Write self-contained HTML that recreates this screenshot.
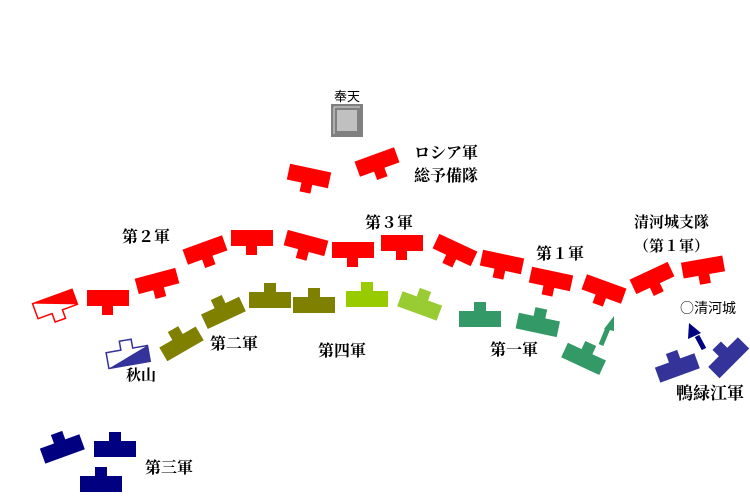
<!DOCTYPE html>
<html><head><meta charset="utf-8"><style>
body{margin:0;background:#fff}
svg{display:block}
text{font-family:"Noto Sans CJK JP","Noto Serif CJK SC",sans-serif;fill:#000}
.b{font-family:"Noto Serif CJK SC","Noto Sans CJK JP",serif;font-weight:bold;font-size:16px}
</style></head><body>
<svg width="750" height="500" viewBox="0 0 750 500" xmlns="http://www.w3.org/2000/svg">
<defs>
<path id="r" d="M-21,-8 H21 V8 H5 V17 H-6 V8 H-21 Z"/>
<path id="j" d="M-21,-7 H-6 V-16 H6 V-7 H21 V9 H-21 Z"/>
</defs>
<!-- Fengtian -->
<rect x="331" y="104" width="32" height="33" fill="#808080"/>
<rect x="337" y="110" width="20" height="21" fill="#c0c0c0"/>
<line x1="334" y1="107" x2="334" y2="134" stroke="#ddd" stroke-width="1"/>
<line x1="334" y1="107" x2="360" y2="107" stroke="#ddd" stroke-width="1"/>
<text x="347" y="101" font-size="13" text-anchor="middle">奉天</text>
<!-- Russian -->
<g fill="#ff0000">
<use href="#r" transform="translate(108,298)"/>
<use href="#r" transform="translate(157,281) rotate(-15)"/>
<use href="#r" transform="translate(205,250) rotate(-20)"/>
<use href="#r" transform="translate(252,238)"/>
<use href="#r" transform="translate(306,243) rotate(15)"/>
<use href="#r" transform="translate(353,250)"/>
<use href="#r" transform="translate(402,243)"/>
<use href="#r" transform="translate(455,250) rotate(25)"/>
<use href="#r" transform="translate(502,262) rotate(12)"/>
<use href="#r" transform="translate(551,279) rotate(12)"/>
<use href="#r" transform="translate(604,289) rotate(20)"/>
<use href="#r" transform="translate(652,278) rotate(-25)"/>
<use href="#r" transform="translate(703,267) rotate(-10)"/>
<use href="#r" transform="translate(309,176) rotate(12)"/>
<use href="#r" transform="translate(377,162) rotate(-20)"/>
</g>
<g transform="translate(55,304) rotate(-20)">
<use href="#r" fill="#fff" stroke="#ff0000" stroke-width="1.5"/>
<path d="M-21,-8 H21 V8 Z" fill="#ff0000"/>
</g>
<!-- Japanese -->
<g fill="#808000">
<use href="#j" transform="translate(181,343) rotate(-30)"/>
<use href="#j" transform="translate(223,312) rotate(-25)"/>
<use href="#j" transform="translate(270,299)"/>
<use href="#j" transform="translate(314,304)"/>
</g>
<use href="#j" fill="#99cc00" transform="translate(367,298)"/>
<use href="#j" fill="#99cc33" transform="translate(420,305) rotate(20)"/>
<g fill="#339966">
<use href="#j" transform="translate(480,318)"/>
<use href="#j" transform="translate(538,324) rotate(12)"/>
<use href="#j" transform="translate(584,358) rotate(25)"/>
</g>
<g transform="translate(128,356) rotate(-10)">
<use href="#j" fill="#fff" stroke="#333399" stroke-width="1.5"/>
<path d="M-21,9 H21 V-7 Z" fill="#333399"/>
</g>
<g fill="#000080">
<use href="#j" transform="translate(62,448) rotate(-20)"/>
<use href="#j" transform="translate(115,448)"/>
<use href="#j" transform="translate(101,483)"/>
</g>
<g fill="#333399">
<use href="#j" transform="translate(677,367) rotate(-20)"/>
<use href="#j" transform="translate(728,357) rotate(-45)"/>
</g>
<!-- arrows -->
<line x1="601" y1="345" x2="608" y2="328" stroke="#339966" stroke-width="5"/>
<polygon points="614,316 604,329 614,331" fill="#339966"/>
<line x1="704" y1="349" x2="697" y2="336" stroke="#000080" stroke-width="5"/>
<polygon points="689,323 688,339 701,333" fill="#000080"/>
<!-- labels -->
<text class="b" x="414" y="158">ロシア軍</text>
<text class="b" x="414" y="181">総予備隊</text>
<text class="b" x="122" y="242">第２軍</text>
<text class="b" x="365" y="228">第３軍</text>
<text class="b" x="536" y="259">第１軍</text>
<text class="b" x="634" y="227" style="font-size:15px">清河城支隊</text>
<text class="b" x="634" y="251" style="font-size:15px">（第１軍）</text>
<text x="680" y="313" font-size="14">○清河城</text>
<text class="b" x="210" y="349">第二軍</text>
<text class="b" x="318" y="356">第四軍</text>
<text class="b" x="490" y="355">第一軍</text>
<text class="b" x="126" y="380" style="font-size:15px">秋山</text>
<text class="b" x="676" y="399" style="font-size:17px">鴨緑江軍</text>
<text class="b" x="145" y="473">第三軍</text>
</svg>
</body></html>
